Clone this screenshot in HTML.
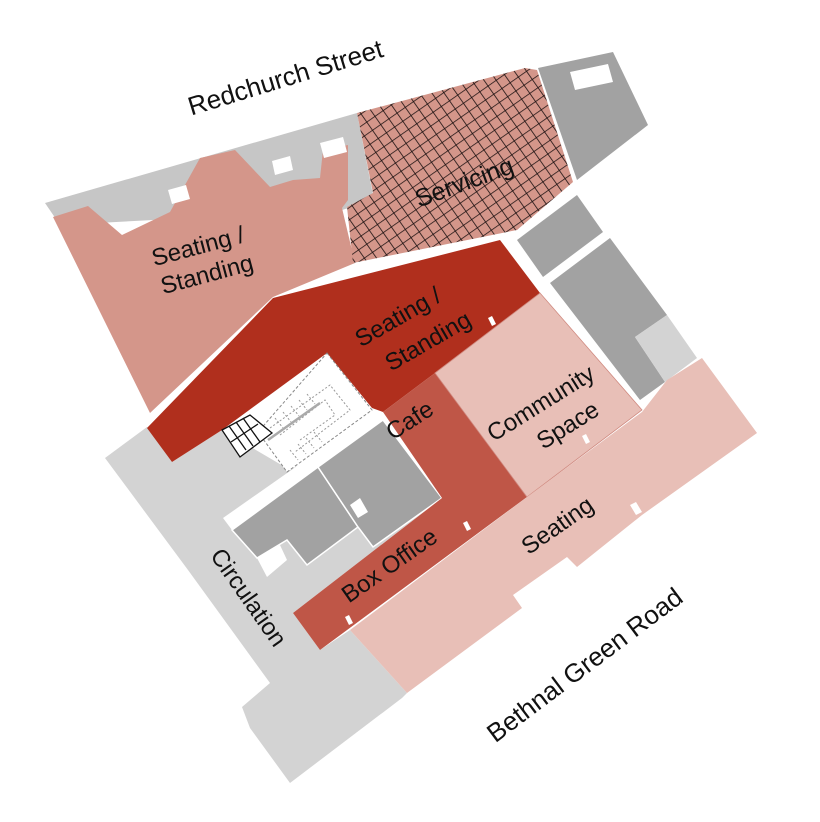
<!DOCTYPE html>
<html><head><meta charset="utf-8"><style>
html,body{margin:0;padding:0;background:#fff}
svg{display:block}
text{font-family:"Liberation Sans",sans-serif;font-size:24px;fill:#111;text-anchor:middle}
</style></head><body>
<svg width="820" height="822" viewBox="0 0 820 822" xmlns="http://www.w3.org/2000/svg">
<defs>
<pattern id="h" width="10" height="10" patternUnits="userSpaceOnUse" patternTransform="rotate(-35)">
<rect width="10" height="10" fill="#d4968a"/>
<path d="M0 0H10M0 0V10" stroke="#1a1010" stroke-width="1.6"/>
</pattern>
</defs>
<polygon points="45,203 357,113 374,200 342,210 60,225" fill="#c6c6c6"/>
<polygon points="53,217 88,206 122,235 170,212 200,158 235,150 270,187 293,180 320,178 323,150 348,145 348,200 342,208 355,263 273,297 150,413" fill="#d4968a"/>
<g fill="#fff">
<polygon points="168,190 186,185 190,199 172,204"/>
<polygon points="272,161 290,156 293,170 275,175"/>
<polygon points="320,143 343,137 347,152 324,158"/>
</g>
<polygon points="357,113 525,68 537,70 573,182 517,230 353,263 347,207 373,193" fill="url(#h)"/>
<polygon points="538,68 613,52 648,125 577,180" fill="#a2a2a2"/>
<polygon points="570,72 608,64 613,82 575,90" fill="#fff"/>
<polygon points="517,240 577,195 603,232 543,277" fill="#a2a2a2"/>
<polygon points="550,283 610,238 667,315 635,337 665,382 640,400" fill="#a2a2a2"/>
<polygon points="635,337 667,315 697,358 665,382" fill="#d3d3d3"/>
<polygon points="105,458 147,427 172,462 222,430 290,470 380,420 442,498 293,613 320,650 350,630 407,693 402,698 290,783 250,728 242,707 270,683 188,570" fill="#d3d3d3"/>
<polygon points="147,428 273,298 500,240 540,293 435,373 383,412 372,408 327,353 222,430 172,462" fill="#b02f1d"/>
<polygon points="327,353 372,410 287,472 258,432" fill="#fff" stroke="#888" stroke-dasharray="3,2"/>
<g stroke="#999" stroke-width="1" stroke-dasharray="2,2" fill="none">
<polyline points="270,428 330,385 350,410 295,452"/>
<polyline points="280,435 325,400 335,415 300,440"/>
<path d="M275,418l8,10M283,412l8,10M291,406l8,10M299,400l8,10M307,394l8,10M290,450l8,10M298,444l8,10M306,438l8,10M314,432l8,10"/>
</g>
<line x1="268" y1="440" x2="320" y2="403" stroke="#aaa" stroke-width="2.5"/>
<g fill="#fff" stroke="#111" stroke-width="1.3">
<polygon points="222,430 250,415 272,433 240,457"/>
<path d="M229,426l17,24M236,422l17,24M243,418l17,24M231,442l27,-18" fill="none"/>
</g>
<polygon points="223,518 377,410 386,421 232,530" fill="#fff"/>
<polygon points="232,530 318,467 358,527 307,565 287,540 257,558" fill="#a2a2a2" stroke="#fff" stroke-width="1.5"/>
<polygon points="318,467 383,420 442,498 373,547 358,527" fill="#a2a2a2" stroke="#fff" stroke-width="1.5"/>
<polygon points="350,505 360,498 368,512 358,518" fill="#fff"/>
<polygon points="257,558 280,545 287,560 267,577" fill="#fff"/>
<polygon points="383,412 435,373 527,497 320,650 293,613 442,498" fill="#bf5647"/>
<polygon points="435,373 540,293 642,410 527,497" fill="#e8bfb7" stroke="#d08a80" stroke-width="0.8"/>
<polygon points="527,497 642,412 667,380 702,358 757,433 642,515 577,567 567,557 513,595 522,608 407,693 350,630" fill="#e8bfb7"/>
<g fill="#fff">
<polygon points="488,318 492,316 496,324 492,326"/>
<polygon points="582,436 586,434 590,442 586,444"/>
<polygon points="463,523 467,521 471,529 467,531"/>
<polygon points="345,617 349,615 353,623 349,625"/>
<polygon points="630,505 636,502 642,512 636,515"/>
</g>
<text style="font-size:26px" transform="translate(288,86) rotate(-17)">Redchurch Street</text>
<text transform="translate(200,254) rotate(-15)">Seating /</text>
<text transform="translate(209,282) rotate(-15)">Standing</text>
<text style="font-size:25px" transform="translate(467,190) rotate(-20)">Servicing</text>
<text transform="translate(402,324) rotate(-30)">Seating /</text>
<text transform="translate(432,348) rotate(-30)">Standing</text>
<text transform="translate(414,427) rotate(-33)">Cafe</text>
<text transform="translate(545,410) rotate(-32)">Community</text>
<text transform="translate(572,432) rotate(-32)">Space</text>
<text transform="translate(394,572) rotate(-35)">Box Office</text>
<text transform="translate(562,532) rotate(-35)">Seating</text>
<text transform="translate(242,602) rotate(55)">Circulation</text>
<text style="font-size:26px" transform="translate(590,672) rotate(-37)">Bethnal Green Road</text>
</svg>
</body></html>
